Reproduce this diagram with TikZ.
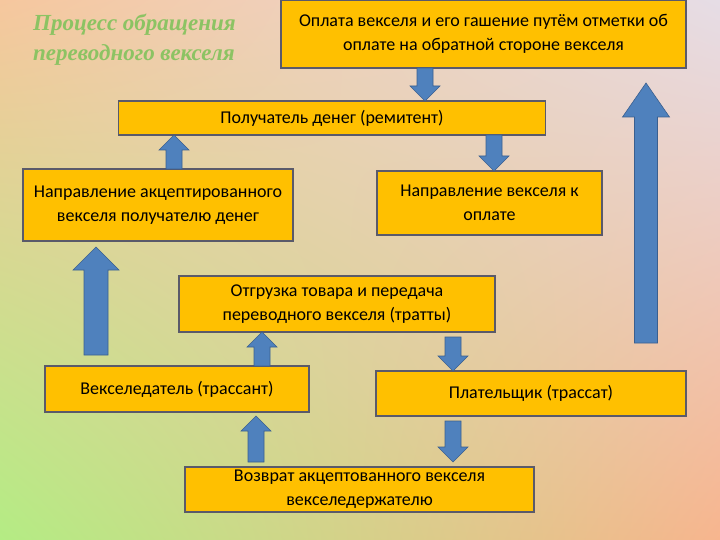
\documentclass[tikz,border=0pt]{standalone}
\usepackage{fontspec}
\setmainfont{Carlito}
\newfontfamily\titlefont{Liberation Serif}
\usetikzlibrary{calc,shadings}
\definecolor{boxfill}{HTML}{FFC000}
\definecolor{boxline}{HTML}{5A5A6A}
\definecolor{arrfill}{HTML}{4F81BD}
\definecolor{arrline}{HTML}{3A5F8F}
\definecolor{titlegreen}{HTML}{8CC363}
\definecolor{bgTL}{HTML}{F6C79E}
\definecolor{bgTR}{HTML}{E6DDE6}
\definecolor{bgBL}{HTML}{B4EC84}
\definecolor{bgBR}{HTML}{F7B58E}
\newcommand\barrow[6]{% x, ytail, yhead, ytip, shaft half, head half
  \filldraw[arrowst] (#1-#5,#2) -- (#1-#5,#3) -- (#1-#6,#3) -- (#1,#4) -- (#1+#6,#3) -- (#1+#5,#3) -- (#1+#5,#2) -- cycle;}
\begin{document}
\begin{tikzpicture}[x=1pt,y=-1pt,
  box/.style={draw=boxline, line width=1.4pt, fill=boxfill, align=center, inner sep=2pt,
    font=\fontsize{18}{24}\selectfont},
  arrowst/.style={fill=arrfill, draw=arrline, line width=0.6pt}]
\useasboundingbox (0,0) rectangle (720,540);
\shade[upper left=bgTL, upper right=bgTR, lower left=bgBL, lower right=bgBR] (0,0) rectangle (720,540);
% title
\node[text=titlegreen, align=left, anchor=west, inner sep=0pt, font=\titlefont\bfseries\itshape\fontsize{23}{30}\selectfont] (title) at (33,40) {Процесс обращения\\переводного векселя};
% boxes
\node[box, minimum width=405, minimum height=68] (pay) at (483.5,34) {Оплата векселя и его гашение путём отметки об\\оплате на обратной стороне векселя};
\node[box, minimum width=427, minimum height=34] (rem) at (332,118) {Получатель денег (ремитент)};
\node[box, minimum width=270, minimum height=72] (acc) at (158,205) {Направление акцептированного\\векселя получателю денег};
\node[box, minimum width=225, minimum height=64] (dir) at (489.5,203) {Направление векселя к\\оплате};
\node[box, minimum width=316, minimum height=56] (ship) at (337,304) {Отгрузка товара и передача\\переводного векселя (тратты)};
\node[box, minimum width=264, minimum height=46] (drawer) at (177,389) {Векселедатель (трассант)};
\node[box, minimum width=310, minimum height=45] (payer) at (531,393.5) {Плательщик (трассат)};
\node[box, minimum width=349, minimum height=45] (ret) at (359.5,489.5) {Возврат акцептованного векселя\\векселедержателю};
% arrows
\barrow{425}{68}{86}{101}{8}{15}
\barrow{174}{169}{150}{135}{8}{15}
\barrow{494}{135}{156}{171}{8}{15}
\barrow{646}{343}{117}{83}{11.5}{23.5}
\barrow{96}{355}{270}{247}{12}{23}
\barrow{262}{366}{347}{332}{8}{15}
\barrow{453}{337}{356}{371}{8}{15}
\barrow{453}{421}{447}{462}{8}{15}
\barrow{256}{462}{431}{416}{8}{15}
\end{tikzpicture}
\end{document}
